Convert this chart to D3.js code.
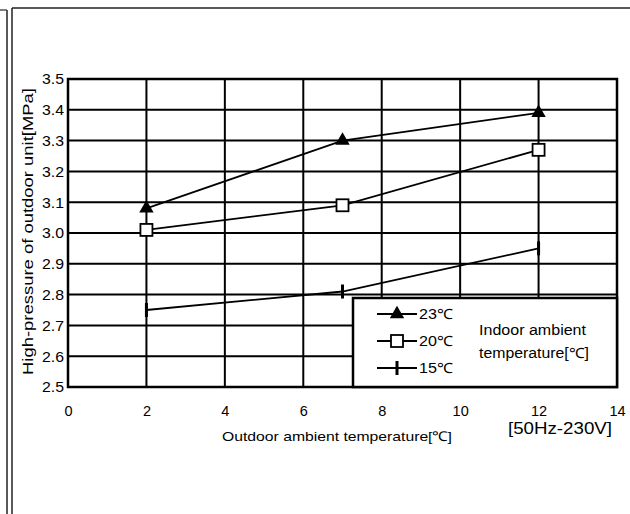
<!DOCTYPE html>
<html><head><meta charset="utf-8">
<script src="https://cdn.jsdelivr.net/npm/d3@7"></script>
<style>body{margin:0;background:#fff}svg{display:block;font-family:"Liberation Sans",Arial,sans-serif}</style>
</head><body><svg id="c" width="630" height="514"></svg>
<script>
const xValues = [2, 7, 12];
const series23 = [3.08, 3.30, 3.39];
const series20 = [3.01, 3.09, 3.27];
const series15 = [2.75, 2.81, 2.95];
const seriesNames = ["23℃", "20℃", "15℃"];
const markerTypes = ["triangle", "square", "tick"];
const xTicks = [0, 2, 4, 6, 8, 10, 12, 14];
const yTicks = [2.5, 2.6, 2.7, 2.8, 2.9, 3.0, 3.1, 3.2, 3.3, 3.4, 3.5];
const xTitle = "Outdoor ambient temperature[℃]";
const yTitle = "High-pressure of outdoor unit[MPa]";
const noteText = "[50Hz-230V]";
const legendTitle = ["Indoor ambient", "temperature[℃]"];

const svg = d3.select("#c");
const FF = "Liberation Sans, Arial, sans-serif";
const L = 68, R = 617, T = 79, B = 387;
const x = d3.scaleLinear().domain([0, 14]).range([L, R]);
const y = d3.scaleLinear().domain([2.5, 3.5]).range([B, T]);

// frame
svg.append("line").attr("x1",12).attr("x2",12).attr("y1",8).attr("y2",514).attr("stroke","#222").attr("stroke-width",1.5);
svg.append("line").attr("x1",12).attr("x2",630).attr("y1",8).attr("y2",8).attr("stroke","#222").attr("stroke-width",1.5);
svg.append("line").attr("x1",7).attr("x2",7).attr("y1",10).attr("y2",514).attr("stroke","#222").attr("stroke-width",1.5);
svg.append("line").attr("x1",0).attr("x2",7).attr("y1",10).attr("y2",10).attr("stroke","#555").attr("stroke-width",1.5);

// gridlines
const g = svg.append("g");
g.selectAll(".hg").data(yTicks).join("line")
  .attr("x1",L).attr("x2",R).attr("y1",d=>y(d)).attr("y2",d=>y(d))
  .attr("stroke","#000").attr("stroke-width",2);
g.selectAll(".vg").data(xTicks).join("line")
  .attr("y1",T).attr("y2",B).attr("x1",d=>x(d)).attr("x2",d=>x(d))
  .attr("stroke","#000").attr("stroke-width",2);
g.append("rect").attr("x",L).attr("y",T).attr("width",R-L).attr("height",B-T)
  .attr("fill","none").attr("stroke","#000").attr("stroke-width",2.5);

function fitText(sel, len){ return sel.attr("textLength",len).attr("lengthAdjust","spacingAndGlyphs"); }

// axes labels via d3 axes
const xa = svg.append("g").attr("transform",`translate(0,${B})`)
  .call(d3.axisBottom(x).tickValues(xTicks).tickSize(0).tickPadding(19).tickFormat(d3.format("d")));
xa.select(".domain").remove();
xa.attr("font-size",14.5).attr("font-family",FF);
xa.selectAll("text").attr("fill","#000");
const ya = svg.append("g").attr("transform",`translate(${L-4},0)`)
  .call(d3.axisLeft(y).tickValues(yTicks).tickSize(0).tickPadding(0).tickFormat(d3.format(".1f")));
ya.select(".domain").remove();
ya.attr("font-size",15).attr("font-family",FF);
ya.selectAll("text").attr("fill","#000").attr("textLength",22).attr("lengthAdjust","spacingAndGlyphs");

// titles
fitText(svg.append("text").attr("x",222).attr("y",441).attr("font-size",13.5).text(xTitle), 230);
fitText(svg.append("text").attr("x",508).attr("y",434).attr("font-size",17).text(noteText), 104);
fitText(svg.append("text").attr("transform","translate(33,375) rotate(-90)").attr("font-size",14.5).text(yTitle), 287);

// series
const allSeries = [series23, series20, series15];
const line = d3.line().x((d,i)=>x(xValues[i])).y(d=>y(d));
function marker(sel, type){
  if(type==="triangle") sel.append("path").attr("d",d3.symbol(d3.symbolTriangle,90)()).attr("fill","#000");
  else if(type==="square") sel.append("rect").attr("x",-6).attr("y",-6).attr("width",12).attr("height",12).attr("fill","#fff").attr("stroke","#000").attr("stroke-width",1.8);
  else sel.append("rect").attr("x",-1.5).attr("y",-7).attr("width",3).attr("height",14).attr("fill","#000");
}
allSeries.forEach((s,k)=>{
  svg.append("path").attr("d",line(s)).attr("fill","none").attr("stroke","#000").attr("stroke-width",1.8);
  s.forEach((v,i)=>{
    const m = svg.append("g").attr("transform",`translate(${x(xValues[i])},${y(v)})`);
    marker(m, markerTypes[k]);
  });
});

// legend
const lg = svg.append("g");
lg.append("rect").attr("x",353).attr("y",298).attr("width",264).attr("height",89)
  .attr("fill","#fff").attr("stroke","#000").attr("stroke-width",2.5);
const rowsY = [314, 341, 368];
seriesNames.forEach((n,k)=>{
  lg.append("line").attr("x1",377).attr("x2",417).attr("y1",rowsY[k]).attr("y2",rowsY[k]).attr("stroke","#000").attr("stroke-width",1.8);
  const m = lg.append("g").attr("transform",`translate(397,${rowsY[k]})`);
  marker(m, markerTypes[k]);
  fitText(lg.append("text").attr("x",419).attr("y",rowsY[k]+5).attr("font-size",14).text(n), 34);
});
fitText(lg.append("text").attr("x",479).attr("y",335).attr("font-size",14).text(legendTitle[0]), 107);
fitText(lg.append("text").attr("x",479).attr("y",358).attr("font-size",14).text(legendTitle[1]), 110);
</script></body></html>
